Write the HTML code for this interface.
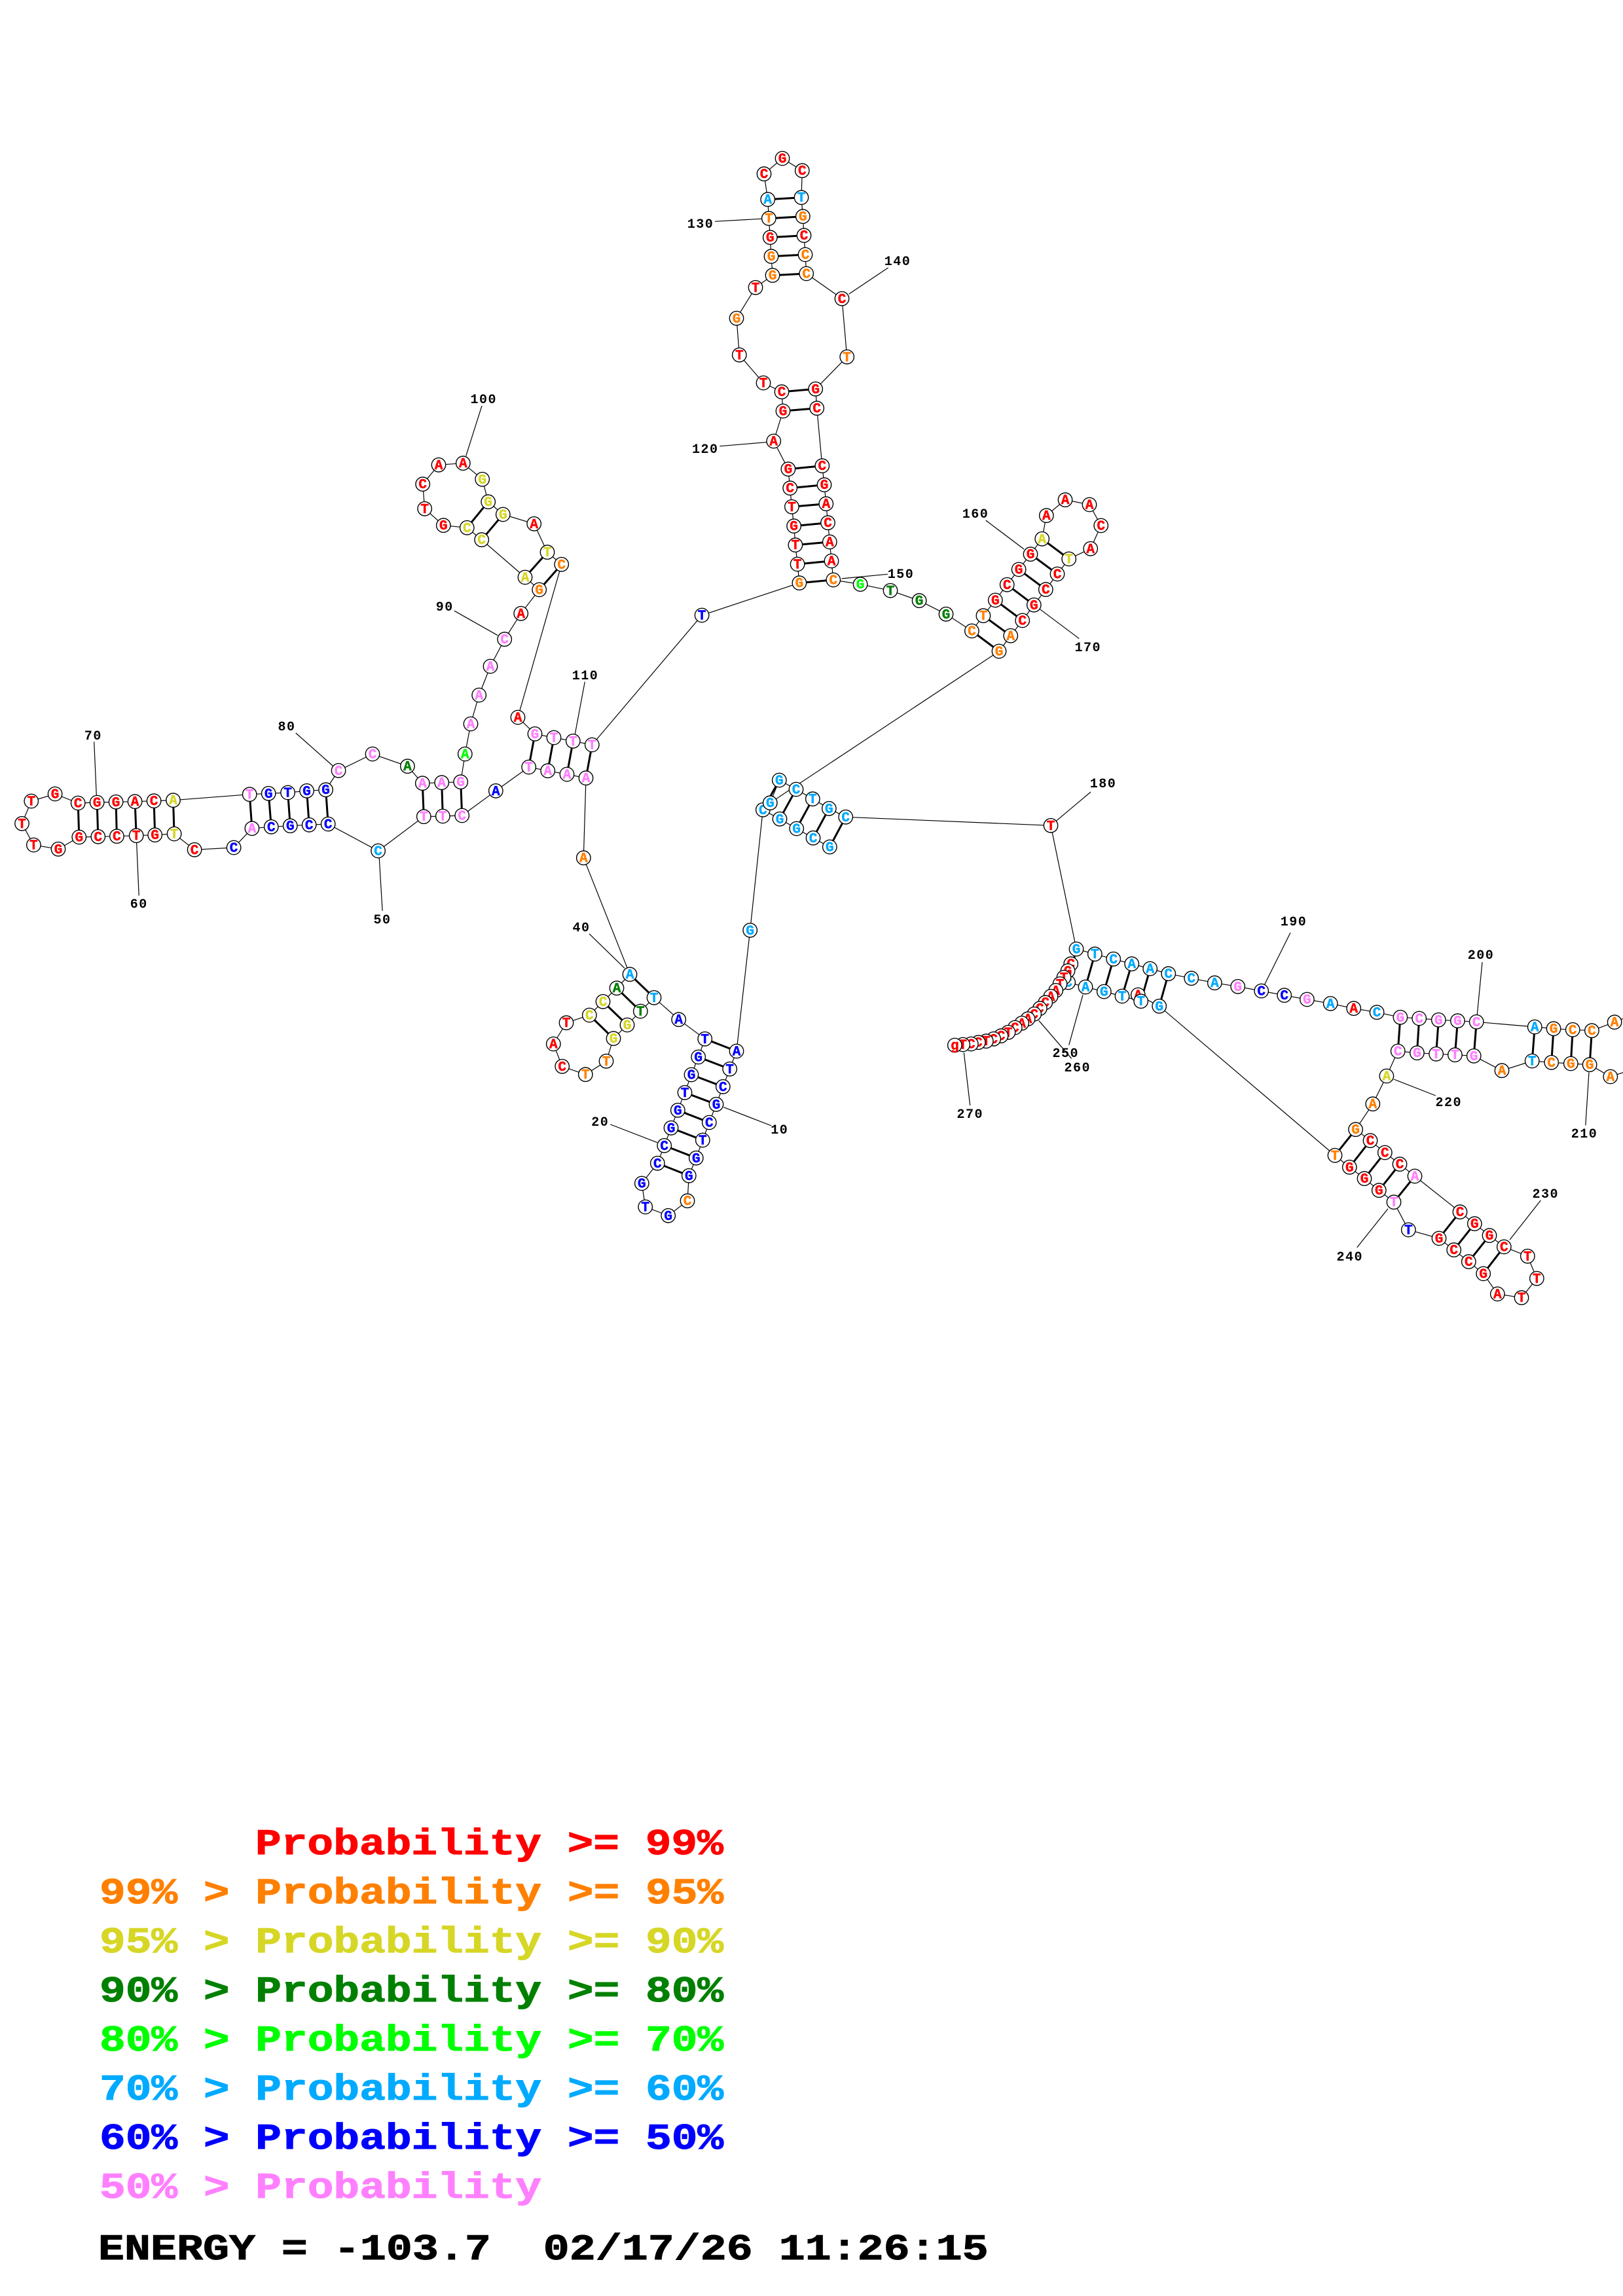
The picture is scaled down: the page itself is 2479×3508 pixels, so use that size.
<!DOCTYPE html>
<html><head><meta charset="utf-8"><style>
html,body{margin:0;padding:0;background:#fff}
svg{display:block}
circle{fill:#fff;stroke:#000;stroke-width:1.4}
.n text{font:bold 21px "Liberation Mono",monospace;text-anchor:middle;transform:translate(0,6.5px);stroke-width:.5}
.t text{font:bold 20px "Liberation Mono",monospace;text-anchor:middle;fill:#000;letter-spacing:1.5px}
.L text{font:bold 56px "Liberation Mono",monospace;white-space:pre;stroke-width:1}
.r{fill:#f00;stroke:#f00}.o{fill:#ff8000;stroke:#ff8000}.y{fill:#d6d626;stroke:#d6d626}.g{fill:#008000;stroke:#008000}.l{fill:#0f0;stroke:#0f0}.s{fill:#0af;stroke:#0af}.b{fill:#00f;stroke:#00f}.p{fill:#ff80ff;stroke:#ff80ff}
</style></head><body>
<svg xmlns="http://www.w3.org/2000/svg" width="2479" height="3508" viewBox="0 0 2479 3508">
<polyline fill="none" stroke="#000" stroke-width="1.2" points="1267.3,1294 1242,1280.3 1216.7,1266 1191,1251.3 1165.3,1237.3 1145.7,1421.3 1125,1606 1114.7,1633.3 1104.3,1660.3 1094,1687.3 1083.3,1715 1073.3,1742 1063.3,1769.3 1052.3,1796.3 1050,1834.7 1020.7,1857.3 985.7,1844 980.3,1808 1004.3,1777.3 1014.7,1750.3 1025,1723.3 1035.3,1696.3 1046,1669.3 1056,1642 1066.7,1615 1076.7,1587.3 1036.7,1557.7 999,1524.3 978.3,1545 958,1566 937,1586.7 926,1621.3 894.3,1641.7 858.7,1629.3 845.3,1595 865,1562.7 900.3,1551 921,1530.3 942,1509.7 962,1488.7 891.3,1310.7 895,1188.7 866,1183 836.7,1177.7 807.7,1172 757.3,1208.3 705.7,1246 676.3,1247 647.3,1247.7 577.6,1300 501.2,1259 472.2,1260.3 443.3,1261.7 414.3,1263.3 384.9,1265.7 357.1,1295 297.1,1298.3 266.1,1274 236.7,1275.7 208.2,1276.7 178.4,1277.7 149.8,1278.3 120.8,1279 89,1297.3 51.4,1291 33.5,1258.3 47.8,1224 84.1,1213 119.2,1227 148.2,1226 177.1,1225.3 206.1,1224.7 235.1,1223.7 264.5,1222.7 381.2,1213.7 410.2,1212.3 439.6,1211 468.6,1208.3 497.6,1206.7 517.1,1177.3 569,1152 622.4,1170.7 645.3,1196.7 674.7,1195.7 703.7,1194.7 710.3,1152 719,1106 731.7,1062 749,1018 770.7,976.7 795.7,937.3 823.7,901 802,882 735.7,824.7 713.3,806.3 677.3,802.7 648.7,777.3 645.7,739.7 670,710.3 707.3,707.7 736.7,732.3 745.7,766.7 768.3,786 815.7,800.3 836,843.7 857.7,862.3 791,1096 817,1121.3 846,1127 875.3,1132.3 904.3,1138 1072.1,940 1220.9,890.7 1218.1,862 1214.9,832.7 1212.6,803.7 1209.4,774.3 1206.7,745.7 1203.9,716.7 1181.7,674 1196,628 1194,598.7 1166,585 1129.3,542.3 1125,486.3 1154,439.3 1180,420.7 1178,391.7 1176.3,362.7 1174.3,333.7 1172.7,304.7 1167,265.7 1195,242 1225.3,260.7 1224,301.7 1226.3,330.7 1228,359.7 1230,389 1231.7,418 1286,456.3 1293.7,545.3 1245.7,594.3 1247.7,623.7 1255.8,711.7 1259,740.7 1261.8,769.7 1264.5,798.7 1267.3,828 1270,857 1272.8,886 1314.1,892.7 1360,902.3 1404.1,917.7 1445,938.3 1484.4,964 1501.9,940.7 1520.3,917 1538.2,893.3 1556.1,870 1574,846.7 1591.7,823.3 1598.3,787.7 1627,763.7 1664,771 1681.7,803 1665.7,838.3 1632.7,854 1615,877 1597.3,900.7 1579.3,924.3 1561.7,948 1543.7,971.3 1526,995 1176.3,1226.7 1190.3,1192 1216,1206 1241.3,1220.7 1266.3,1235.3 1291.7,1248.3 1605,1261.3 1644,1450 1672.3,1457.7 1700.7,1465.3 1728.7,1472.7 1756.7,1480 1784.7,1487.7 1819.7,1494.7 1855.3,1501.7 1890.7,1507.3 1926.7,1514 1961.7,1520.7 1996.4,1527 2032.2,1533.3 2067.7,1540.7 2103.1,1546.7 2138.9,1554.3 2167.7,1556 2197.3,1558.3 2226.4,1559.7 2255.2,1561.3 2344.2,1569 2373,1571.7 2402.2,1573.3 2431.4,1574.7 2466.1,1561.7 2500,1548 2520,1600 2500,1632 2459.8,1645 2428.1,1626.7 2399.3,1625 2369.7,1623.3 2340.2,1621 2294,1635.7 2251.2,1613.3 2222.4,1611.7 2193.6,1610.3 2164.4,1608.7 2135.2,1606 2117.9,1644 2096.8,1686.7 2070.6,1725.7 2093,1742.7 2115.3,1761 2138,1778.7 2161,1797 2230,1851.7 2252.3,1869.7 2275,1887.7 2297.3,1905 2333.3,1919.3 2347.3,1953.3 2324,1982.7 2287.3,1977 2265.7,1946 2243.3,1927.7 2220.7,1909.7 2198,1892 2151.3,1879 2129,1836.7 2106.3,1818.7 2084,1800.7 2061.3,1783.3 2039,1765.3 1770.7,1537.3 1738.3,1520 1742.7,1529.7 1714,1522 1686.3,1515 1658,1508 1631.7,1501 1635.7,1472.7 1631,1483.3 1625,1493.3 1619,1503.3 1612.7,1513.3 1605,1522.3 1596.7,1531.7 1588.3,1540.7 1579.7,1549.3 1570,1556.7 1560.7,1563.3 1550.3,1570 1540,1577.3 1529,1582.7 1517.7,1587.3 1506.3,1590.7 1494.3,1592.7 1483.3,1595 1470.7,1596 1458.3,1597"/>
<path fill="none" stroke="#000" stroke-width="3" d="M1267.3 1294L1291.7 1248.3M1242 1280.3L1266.3 1235.3M1216.7 1266L1241.3 1220.7M1191 1251.3L1216 1206M1165.3 1237.3L1190.3 1192M1125 1606L1076.7 1587.3M1114.7 1633.3L1066.7 1615M1104.3 1660.3L1056 1642M1094 1687.3L1046 1669.3M1083.3 1715L1035.3 1696.3M1073.3 1742L1025 1723.3M1063.3 1769.3L1014.7 1750.3M1052.3 1796.3L1004.3 1777.3M999 1524.3L962 1488.7M978.3 1545L942 1509.7M958 1566L921 1530.3M937 1586.7L900.3 1551M895 1188.7L904.3 1138M866 1183L875.3 1132.3M836.7 1177.7L846 1127M807.7 1172L817 1121.3M705.7 1246L703.7 1194.7M676.3 1247L674.7 1195.7M647.3 1247.7L645.3 1196.7M501.2 1259L497.6 1206.7M472.2 1260.3L468.6 1208.3M443.3 1261.7L439.6 1211M414.3 1263.3L410.2 1212.3M384.9 1265.7L381.2 1213.7M266.1 1274L264.5 1222.7M236.7 1275.7L235.1 1223.7M208.2 1276.7L206.1 1224.7M178.4 1277.7L177.1 1225.3M149.8 1278.3L148.2 1226M120.8 1279L119.2 1227M823.7 901L857.7 862.3M802 882L836 843.7M735.7 824.7L768.3 786M713.3 806.3L745.7 766.7M1220.9 890.7L1272.8 886M1218.1 862L1270 857M1214.9 832.7L1267.3 828M1212.6 803.7L1264.5 798.7M1209.4 774.3L1261.8 769.7M1206.7 745.7L1259 740.7M1203.9 716.7L1255.8 711.7M1196 628L1247.7 623.7M1194 598.7L1245.7 594.3M1180 420.7L1231.7 418M1178 391.7L1230 389M1176.3 362.7L1228 359.7M1174.3 333.7L1226.3 330.7M1172.7 304.7L1224 301.7M1484.4 964L1526 995M1501.9 940.7L1543.7 971.3M1520.3 917L1561.7 948M1538.2 893.3L1579.3 924.3M1556.1 870L1597.3 900.7M1574 846.7L1615 877M1591.7 823.3L1632.7 854M1644 1450L1631.7 1501M1672.3 1457.7L1658 1508M1700.7 1465.3L1686.3 1515M1728.7 1472.7L1714 1522M1756.7 1480L1742.7 1529.7M1784.7 1487.7L1770.7 1537.3M2138.9 1554.3L2135.2 1606M2167.7 1556L2164.4 1608.7M2197.3 1558.3L2193.6 1610.3M2226.4 1559.7L2222.4 1611.7M2255.2 1561.3L2251.2 1613.3M2344.2 1569L2340.2 1621M2373 1571.7L2369.7 1623.3M2402.2 1573.3L2399.3 1625M2431.4 1574.7L2428.1 1626.7M2070.6 1725.7L2039 1765.3M2093 1742.7L2061.3 1783.3M2115.3 1761L2084 1800.7M2138 1778.7L2106.3 1818.7M2161 1797L2129 1836.7M2230 1851.7L2198 1892M2252.3 1869.7L2220.7 1909.7M2275 1887.7L2243.3 1927.7M2297.3 1905L2265.7 1946"/>
<path fill="none" stroke="#000" stroke-width="1.2" d="M143.7 1133.3L147.3 1215M208.6 1286.7L212.2 1368.3M451.8 1120L508.2 1170M579.2 1310L584.1 1391.7M736 620L711.7 696.7M694 933.3L760 970.7M893.3 1041.7L878.3 1121.7M900 1426.7L954 1479.3M1105.3 1691.7L1178.3 1720M932.3 1718L1004 1745.7M1092 338.3L1163.3 334.3M1099.3 681.7L1170.7 675.7M1356.7 409L1296.7 449.3M1355.9 877.3L1285.6 884M1505.7 795L1564 839M1648.3 975.7L1588.3 930.7M1666 1210L1605 1261.3M1971 1425L1926.7 1514M2264 1470L2255.2 1561.3M2427 1638.3L2421.8 1719.3M2129 1649L2192.8 1674M2353.3 1834L2306 1894.3M2072.7 1906L2120 1846.7M1654 1520L1632.7 1596.7M1586.7 1559.3L1636.7 1617.3M1472.3 1608.3L1481.7 1689"/>
<g class="t">
<text x="142.4" y="1130">70</text><text x="212.2" y="1387">60</text><text x="438" y="1116">80</text><text x="584" y="1411">50</text><text x="738.7" y="616">100</text><text x="679.3" y="933">90</text><text x="894" y="1038">110</text><text x="888" y="1423">40</text><text x="1190.7" y="1732">10</text><text x="916.7" y="1720">20</text><text x="1070" y="348">130</text><text x="1077.3" y="692">120</text><text x="1371" y="405">140</text><text x="1376" y="883">150</text><text x="1490" y="791">160</text><text x="1661.7" y="995">170</text><text x="1685" y="1203">180</text><text x="1976" y="1414">190</text><text x="2262" y="1465">200</text><text x="2420" y="1738">210</text><text x="2212.8" y="1690">220</text><text x="2360.7" y="1830">230</text><text x="2061.7" y="1926">240</text><text x="1627.7" y="1615">250</text><text x="1645.7" y="1637">260</text><text x="1481.7" y="1708">270</text>
</g>
<g class="n">
<circle r="10.7" cx="1267.3" cy="1294"/><text class="s" x="1267.3" y="1294">G</text>
<circle r="10.7" cx="1242" cy="1280.3"/><text class="s" x="1242" y="1280.3">C</text>
<circle r="10.7" cx="1216.7" cy="1266"/><text class="s" x="1216.7" y="1266">G</text>
<circle r="10.7" cx="1191" cy="1251.3"/><text class="s" x="1191" y="1251.3">G</text>
<circle r="10.7" cx="1165.3" cy="1237.3"/><text class="s" x="1165.3" y="1237.3">C</text>
<circle r="10.7" cx="1145.7" cy="1421.3"/><text class="s" x="1145.7" y="1421.3">G</text>
<circle r="10.7" cx="1125" cy="1606"/><text class="b" x="1125" y="1606">A</text>
<circle r="10.7" cx="1114.7" cy="1633.3"/><text class="b" x="1114.7" y="1633.3">T</text>
<circle r="10.7" cx="1104.3" cy="1660.3"/><text class="b" x="1104.3" y="1660.3">C</text>
<circle r="10.7" cx="1094" cy="1687.3"/><text class="b" x="1094" y="1687.3">G</text>
<circle r="10.7" cx="1083.3" cy="1715"/><text class="b" x="1083.3" y="1715">C</text>
<circle r="10.7" cx="1073.3" cy="1742"/><text class="b" x="1073.3" y="1742">T</text>
<circle r="10.7" cx="1063.3" cy="1769.3"/><text class="b" x="1063.3" y="1769.3">G</text>
<circle r="10.7" cx="1052.3" cy="1796.3"/><text class="b" x="1052.3" y="1796.3">G</text>
<circle r="10.7" cx="1050" cy="1834.7"/><text class="o" x="1050" y="1834.7">C</text>
<circle r="10.7" cx="1020.7" cy="1857.3"/><text class="b" x="1020.7" y="1857.3">G</text>
<circle r="10.7" cx="985.7" cy="1844"/><text class="b" x="985.7" y="1844">T</text>
<circle r="10.7" cx="980.3" cy="1808"/><text class="b" x="980.3" y="1808">G</text>
<circle r="10.7" cx="1004.3" cy="1777.3"/><text class="b" x="1004.3" y="1777.3">C</text>
<circle r="10.7" cx="1014.7" cy="1750.3"/><text class="b" x="1014.7" y="1750.3">C</text>
<circle r="10.7" cx="1025" cy="1723.3"/><text class="b" x="1025" y="1723.3">G</text>
<circle r="10.7" cx="1035.3" cy="1696.3"/><text class="b" x="1035.3" y="1696.3">G</text>
<circle r="10.7" cx="1046" cy="1669.3"/><text class="b" x="1046" y="1669.3">T</text>
<circle r="10.7" cx="1056" cy="1642"/><text class="b" x="1056" y="1642">G</text>
<circle r="10.7" cx="1066.7" cy="1615"/><text class="b" x="1066.7" y="1615">G</text>
<circle r="10.7" cx="1076.7" cy="1587.3"/><text class="b" x="1076.7" y="1587.3">T</text>
<circle r="10.7" cx="1036.7" cy="1557.7"/><text class="b" x="1036.7" y="1557.7">A</text>
<circle r="10.7" cx="999" cy="1524.3"/><text class="s" x="999" y="1524.3">T</text>
<circle r="10.7" cx="978.3" cy="1545"/><text class="g" x="978.3" y="1545">T</text>
<circle r="10.7" cx="958" cy="1566"/><text class="y" x="958" y="1566">G</text>
<circle r="10.7" cx="937" cy="1586.7"/><text class="y" x="937" y="1586.7">G</text>
<circle r="10.7" cx="926" cy="1621.3"/><text class="o" x="926" y="1621.3">T</text>
<circle r="10.7" cx="894.3" cy="1641.7"/><text class="o" x="894.3" y="1641.7">T</text>
<circle r="10.7" cx="858.7" cy="1629.3"/><text class="r" x="858.7" y="1629.3">C</text>
<circle r="10.7" cx="845.3" cy="1595"/><text class="r" x="845.3" y="1595">A</text>
<circle r="10.7" cx="865" cy="1562.7"/><text class="r" x="865" y="1562.7">T</text>
<circle r="10.7" cx="900.3" cy="1551"/><text class="y" x="900.3" y="1551">C</text>
<circle r="10.7" cx="921" cy="1530.3"/><text class="y" x="921" y="1530.3">C</text>
<circle r="10.7" cx="942" cy="1509.7"/><text class="g" x="942" y="1509.7">A</text>
<circle r="10.7" cx="962" cy="1488.7"/><text class="s" x="962" y="1488.7">A</text>
<circle r="10.7" cx="891.3" cy="1310.7"/><text class="o" x="891.3" y="1310.7">A</text>
<circle r="10.7" cx="895" cy="1188.7"/><text class="p" x="895" y="1188.7">A</text>
<circle r="10.7" cx="866" cy="1183"/><text class="p" x="866" y="1183">A</text>
<circle r="10.7" cx="836.7" cy="1177.7"/><text class="p" x="836.7" y="1177.7">A</text>
<circle r="10.7" cx="807.7" cy="1172"/><text class="p" x="807.7" y="1172">T</text>
<circle r="10.7" cx="757.3" cy="1208.3"/><text class="b" x="757.3" y="1208.3">A</text>
<circle r="10.7" cx="705.7" cy="1246"/><text class="p" x="705.7" y="1246">C</text>
<circle r="10.7" cx="676.3" cy="1247"/><text class="p" x="676.3" y="1247">T</text>
<circle r="10.7" cx="647.3" cy="1247.7"/><text class="p" x="647.3" y="1247.7">T</text>
<circle r="10.7" cx="577.6" cy="1300"/><text class="s" x="577.6" y="1300">C</text>
<circle r="10.7" cx="501.2" cy="1259"/><text class="b" x="501.2" y="1259">C</text>
<circle r="10.7" cx="472.2" cy="1260.3"/><text class="b" x="472.2" y="1260.3">C</text>
<circle r="10.7" cx="443.3" cy="1261.7"/><text class="b" x="443.3" y="1261.7">G</text>
<circle r="10.7" cx="414.3" cy="1263.3"/><text class="b" x="414.3" y="1263.3">C</text>
<circle r="10.7" cx="384.9" cy="1265.7"/><text class="p" x="384.9" y="1265.7">A</text>
<circle r="10.7" cx="357.1" cy="1295"/><text class="b" x="357.1" y="1295">C</text>
<circle r="10.7" cx="297.1" cy="1298.3"/><text class="r" x="297.1" y="1298.3">C</text>
<circle r="10.7" cx="266.1" cy="1274"/><text class="y" x="266.1" y="1274">T</text>
<circle r="10.7" cx="236.7" cy="1275.7"/><text class="r" x="236.7" y="1275.7">G</text>
<circle r="10.7" cx="208.2" cy="1276.7"/><text class="r" x="208.2" y="1276.7">T</text>
<circle r="10.7" cx="178.4" cy="1277.7"/><text class="r" x="178.4" y="1277.7">C</text>
<circle r="10.7" cx="149.8" cy="1278.3"/><text class="r" x="149.8" y="1278.3">C</text>
<circle r="10.7" cx="120.8" cy="1279"/><text class="r" x="120.8" y="1279">G</text>
<circle r="10.7" cx="89" cy="1297.3"/><text class="r" x="89" y="1297.3">G</text>
<circle r="10.7" cx="51.4" cy="1291"/><text class="r" x="51.4" y="1291">T</text>
<circle r="10.7" cx="33.5" cy="1258.3"/><text class="r" x="33.5" y="1258.3">T</text>
<circle r="10.7" cx="47.8" cy="1224"/><text class="r" x="47.8" y="1224">T</text>
<circle r="10.7" cx="84.1" cy="1213"/><text class="r" x="84.1" y="1213">G</text>
<circle r="10.7" cx="119.2" cy="1227"/><text class="r" x="119.2" y="1227">C</text>
<circle r="10.7" cx="148.2" cy="1226"/><text class="r" x="148.2" y="1226">G</text>
<circle r="10.7" cx="177.1" cy="1225.3"/><text class="r" x="177.1" y="1225.3">G</text>
<circle r="10.7" cx="206.1" cy="1224.7"/><text class="r" x="206.1" y="1224.7">A</text>
<circle r="10.7" cx="235.1" cy="1223.7"/><text class="r" x="235.1" y="1223.7">C</text>
<circle r="10.7" cx="264.5" cy="1222.7"/><text class="y" x="264.5" y="1222.7">A</text>
<circle r="10.7" cx="381.2" cy="1213.7"/><text class="p" x="381.2" y="1213.7">T</text>
<circle r="10.7" cx="410.2" cy="1212.3"/><text class="b" x="410.2" y="1212.3">G</text>
<circle r="10.7" cx="439.6" cy="1211"/><text class="b" x="439.6" y="1211">T</text>
<circle r="10.7" cx="468.6" cy="1208.3"/><text class="b" x="468.6" y="1208.3">G</text>
<circle r="10.7" cx="497.6" cy="1206.7"/><text class="b" x="497.6" y="1206.7">G</text>
<circle r="10.7" cx="517.1" cy="1177.3"/><text class="p" x="517.1" y="1177.3">C</text>
<circle r="10.7" cx="569" cy="1152"/><text class="p" x="569" y="1152">C</text>
<circle r="10.7" cx="622.4" cy="1170.7"/><text class="g" x="622.4" y="1170.7">A</text>
<circle r="10.7" cx="645.3" cy="1196.7"/><text class="p" x="645.3" y="1196.7">A</text>
<circle r="10.7" cx="674.7" cy="1195.7"/><text class="p" x="674.7" y="1195.7">A</text>
<circle r="10.7" cx="703.7" cy="1194.7"/><text class="p" x="703.7" y="1194.7">G</text>
<circle r="10.7" cx="710.3" cy="1152"/><text class="l" x="710.3" y="1152">A</text>
<circle r="10.7" cx="719" cy="1106"/><text class="p" x="719" y="1106">A</text>
<circle r="10.7" cx="731.7" cy="1062"/><text class="p" x="731.7" y="1062">A</text>
<circle r="10.7" cx="749" cy="1018"/><text class="p" x="749" y="1018">A</text>
<circle r="10.7" cx="770.7" cy="976.7"/><text class="p" x="770.7" y="976.7">C</text>
<circle r="10.7" cx="795.7" cy="937.3"/><text class="r" x="795.7" y="937.3">A</text>
<circle r="10.7" cx="802" cy="882"/><text class="y" x="802" y="882">A</text>
<circle r="10.7" cx="823.7" cy="901"/><text class="o" x="823.7" y="901">G</text>
<circle r="10.7" cx="735.7" cy="824.7"/><text class="y" x="735.7" y="824.7">C</text>
<circle r="10.7" cx="713.3" cy="806.3"/><text class="y" x="713.3" y="806.3">C</text>
<circle r="10.7" cx="677.3" cy="802.7"/><text class="r" x="677.3" y="802.7">G</text>
<circle r="10.7" cx="648.7" cy="777.3"/><text class="r" x="648.7" y="777.3">T</text>
<circle r="10.7" cx="645.7" cy="739.7"/><text class="r" x="645.7" y="739.7">C</text>
<circle r="10.7" cx="670" cy="710.3"/><text class="r" x="670" y="710.3">A</text>
<circle r="10.7" cx="707.3" cy="707.7"/><text class="r" x="707.3" y="707.7">A</text>
<circle r="10.7" cx="736.7" cy="732.3"/><text class="y" x="736.7" y="732.3">G</text>
<circle r="10.7" cx="745.7" cy="766.7"/><text class="y" x="745.7" y="766.7">G</text>
<circle r="10.7" cx="768.3" cy="786"/><text class="y" x="768.3" y="786">G</text>
<circle r="10.7" cx="815.7" cy="800.3"/><text class="r" x="815.7" y="800.3">A</text>
<circle r="10.7" cx="836" cy="843.7"/><text class="y" x="836" y="843.7">T</text>
<circle r="10.7" cx="857.7" cy="862.3"/><text class="o" x="857.7" y="862.3">C</text>
<circle r="10.7" cx="791" cy="1096"/><text class="r" x="791" y="1096">A</text>
<circle r="10.7" cx="817" cy="1121.3"/><text class="p" x="817" y="1121.3">G</text>
<circle r="10.7" cx="846" cy="1127"/><text class="p" x="846" y="1127">T</text>
<circle r="10.7" cx="875.3" cy="1132.3"/><text class="p" x="875.3" y="1132.3">T</text>
<circle r="10.7" cx="904.3" cy="1138"/><text class="p" x="904.3" y="1138">T</text>
<circle r="10.7" cx="1072.1" cy="940"/><text class="b" x="1072.1" y="940">T</text>
<circle r="10.7" cx="1220.9" cy="890.7"/><text class="o" x="1220.9" y="890.7">G</text>
<circle r="10.7" cx="1218.1" cy="862"/><text class="r" x="1218.1" y="862">T</text>
<circle r="10.7" cx="1214.9" cy="832.7"/><text class="r" x="1214.9" y="832.7">T</text>
<circle r="10.7" cx="1212.6" cy="803.7"/><text class="r" x="1212.6" y="803.7">G</text>
<circle r="10.7" cx="1209.4" cy="774.3"/><text class="r" x="1209.4" y="774.3">T</text>
<circle r="10.7" cx="1206.7" cy="745.7"/><text class="r" x="1206.7" y="745.7">C</text>
<circle r="10.7" cx="1203.9" cy="716.7"/><text class="r" x="1203.9" y="716.7">G</text>
<circle r="10.7" cx="1181.7" cy="674"/><text class="r" x="1181.7" y="674">A</text>
<circle r="10.7" cx="1196" cy="628"/><text class="r" x="1196" y="628">G</text>
<circle r="10.7" cx="1194" cy="598.7"/><text class="r" x="1194" y="598.7">C</text>
<circle r="10.7" cx="1166" cy="585"/><text class="r" x="1166" y="585">T</text>
<circle r="10.7" cx="1129.3" cy="542.3"/><text class="r" x="1129.3" y="542.3">T</text>
<circle r="10.7" cx="1125" cy="486.3"/><text class="o" x="1125" y="486.3">G</text>
<circle r="10.7" cx="1154" cy="439.3"/><text class="r" x="1154" y="439.3">T</text>
<circle r="10.7" cx="1180" cy="420.7"/><text class="o" x="1180" y="420.7">G</text>
<circle r="10.7" cx="1178" cy="391.7"/><text class="o" x="1178" y="391.7">G</text>
<circle r="10.7" cx="1176.3" cy="362.7"/><text class="r" x="1176.3" y="362.7">G</text>
<circle r="10.7" cx="1174.3" cy="333.7"/><text class="o" x="1174.3" y="333.7">T</text>
<circle r="10.7" cx="1172.7" cy="304.7"/><text class="s" x="1172.7" y="304.7">A</text>
<circle r="10.7" cx="1167" cy="265.7"/><text class="r" x="1167" y="265.7">C</text>
<circle r="10.7" cx="1195" cy="242"/><text class="r" x="1195" y="242">G</text>
<circle r="10.7" cx="1225.3" cy="260.7"/><text class="r" x="1225.3" y="260.7">C</text>
<circle r="10.7" cx="1224" cy="301.7"/><text class="s" x="1224" y="301.7">T</text>
<circle r="10.7" cx="1226.3" cy="330.7"/><text class="o" x="1226.3" y="330.7">G</text>
<circle r="10.7" cx="1228" cy="359.7"/><text class="r" x="1228" y="359.7">C</text>
<circle r="10.7" cx="1230" cy="389"/><text class="o" x="1230" y="389">C</text>
<circle r="10.7" cx="1231.7" cy="418"/><text class="o" x="1231.7" y="418">C</text>
<circle r="10.7" cx="1286" cy="456.3"/><text class="r" x="1286" y="456.3">C</text>
<circle r="10.7" cx="1293.7" cy="545.3"/><text class="o" x="1293.7" y="545.3">T</text>
<circle r="10.7" cx="1245.7" cy="594.3"/><text class="r" x="1245.7" y="594.3">G</text>
<circle r="10.7" cx="1247.7" cy="623.7"/><text class="r" x="1247.7" y="623.7">C</text>
<circle r="10.7" cx="1255.8" cy="711.7"/><text class="r" x="1255.8" y="711.7">C</text>
<circle r="10.7" cx="1259" cy="740.7"/><text class="r" x="1259" y="740.7">G</text>
<circle r="10.7" cx="1261.8" cy="769.7"/><text class="r" x="1261.8" y="769.7">A</text>
<circle r="10.7" cx="1264.5" cy="798.7"/><text class="r" x="1264.5" y="798.7">C</text>
<circle r="10.7" cx="1267.3" cy="828"/><text class="r" x="1267.3" y="828">A</text>
<circle r="10.7" cx="1270" cy="857"/><text class="r" x="1270" y="857">A</text>
<circle r="10.7" cx="1272.8" cy="886"/><text class="o" x="1272.8" y="886">C</text>
<circle r="10.7" cx="1314.1" cy="892.7"/><text class="l" x="1314.1" y="892.7">G</text>
<circle r="10.7" cx="1360" cy="902.3"/><text class="g" x="1360" y="902.3">T</text>
<circle r="10.7" cx="1404.1" cy="917.7"/><text class="g" x="1404.1" y="917.7">G</text>
<circle r="10.7" cx="1445" cy="938.3"/><text class="g" x="1445" y="938.3">G</text>
<circle r="10.7" cx="1484.4" cy="964"/><text class="o" x="1484.4" y="964">C</text>
<circle r="10.7" cx="1501.9" cy="940.7"/><text class="o" x="1501.9" y="940.7">T</text>
<circle r="10.7" cx="1520.3" cy="917"/><text class="r" x="1520.3" y="917">G</text>
<circle r="10.7" cx="1538.2" cy="893.3"/><text class="r" x="1538.2" y="893.3">C</text>
<circle r="10.7" cx="1556.1" cy="870"/><text class="r" x="1556.1" y="870">G</text>
<circle r="10.7" cx="1574" cy="846.7"/><text class="r" x="1574" y="846.7">G</text>
<circle r="10.7" cx="1591.7" cy="823.3"/><text class="y" x="1591.7" y="823.3">A</text>
<circle r="10.7" cx="1598.3" cy="787.7"/><text class="r" x="1598.3" y="787.7">A</text>
<circle r="10.7" cx="1627" cy="763.7"/><text class="r" x="1627" y="763.7">A</text>
<circle r="10.7" cx="1664" cy="771"/><text class="r" x="1664" y="771">A</text>
<circle r="10.7" cx="1681.7" cy="803"/><text class="r" x="1681.7" y="803">C</text>
<circle r="10.7" cx="1665.7" cy="838.3"/><text class="r" x="1665.7" y="838.3">A</text>
<circle r="10.7" cx="1632.7" cy="854"/><text class="y" x="1632.7" y="854">T</text>
<circle r="10.7" cx="1615" cy="877"/><text class="r" x="1615" y="877">C</text>
<circle r="10.7" cx="1597.3" cy="900.7"/><text class="r" x="1597.3" y="900.7">C</text>
<circle r="10.7" cx="1579.3" cy="924.3"/><text class="r" x="1579.3" y="924.3">G</text>
<circle r="10.7" cx="1561.7" cy="948"/><text class="r" x="1561.7" y="948">C</text>
<circle r="10.7" cx="1543.7" cy="971.3"/><text class="o" x="1543.7" y="971.3">A</text>
<circle r="10.7" cx="1526" cy="995"/><text class="o" x="1526" y="995">G</text>
<circle r="10.7" cx="1176.3" cy="1226.7"/><text class="s" x="1176.3" y="1226.7">G</text>
<circle r="10.7" cx="1190.3" cy="1192"/><text class="s" x="1190.3" y="1192">G</text>
<circle r="10.7" cx="1216" cy="1206"/><text class="s" x="1216" y="1206">C</text>
<circle r="10.7" cx="1241.3" cy="1220.7"/><text class="s" x="1241.3" y="1220.7">T</text>
<circle r="10.7" cx="1266.3" cy="1235.3"/><text class="s" x="1266.3" y="1235.3">G</text>
<circle r="10.7" cx="1291.7" cy="1248.3"/><text class="s" x="1291.7" y="1248.3">C</text>
<circle r="10.7" cx="1605" cy="1261.3"/><text class="r" x="1605" y="1261.3">T</text>
<circle r="10.7" cx="1644" cy="1450"/><text class="s" x="1644" y="1450">G</text>
<circle r="10.7" cx="1672.3" cy="1457.7"/><text class="s" x="1672.3" y="1457.7">T</text>
<circle r="10.7" cx="1700.7" cy="1465.3"/><text class="s" x="1700.7" y="1465.3">C</text>
<circle r="10.7" cx="1728.7" cy="1472.7"/><text class="s" x="1728.7" y="1472.7">A</text>
<circle r="10.7" cx="1756.7" cy="1480"/><text class="s" x="1756.7" y="1480">A</text>
<circle r="10.7" cx="1784.7" cy="1487.7"/><text class="s" x="1784.7" y="1487.7">C</text>
<circle r="10.7" cx="1819.7" cy="1494.7"/><text class="s" x="1819.7" y="1494.7">C</text>
<circle r="10.7" cx="1855.3" cy="1501.7"/><text class="s" x="1855.3" y="1501.7">A</text>
<circle r="10.7" cx="1890.7" cy="1507.3"/><text class="p" x="1890.7" y="1507.3">G</text>
<circle r="10.7" cx="1926.7" cy="1514"/><text class="b" x="1926.7" y="1514">C</text>
<circle r="10.7" cx="1961.7" cy="1520.7"/><text class="b" x="1961.7" y="1520.7">C</text>
<circle r="10.7" cx="1996.4" cy="1527"/><text class="p" x="1996.4" y="1527">G</text>
<circle r="10.7" cx="2032.2" cy="1533.3"/><text class="s" x="2032.2" y="1533.3">A</text>
<circle r="10.7" cx="2067.7" cy="1540.7"/><text class="r" x="2067.7" y="1540.7">A</text>
<circle r="10.7" cx="2103.1" cy="1546.7"/><text class="s" x="2103.1" y="1546.7">C</text>
<circle r="10.7" cx="2138.9" cy="1554.3"/><text class="p" x="2138.9" y="1554.3">G</text>
<circle r="10.7" cx="2167.7" cy="1556"/><text class="p" x="2167.7" y="1556">C</text>
<circle r="10.7" cx="2197.3" cy="1558.3"/><text class="p" x="2197.3" y="1558.3">G</text>
<circle r="10.7" cx="2226.4" cy="1559.7"/><text class="p" x="2226.4" y="1559.7">G</text>
<circle r="10.7" cx="2255.2" cy="1561.3"/><text class="p" x="2255.2" y="1561.3">C</text>
<circle r="10.7" cx="2344.2" cy="1569"/><text class="s" x="2344.2" y="1569">A</text>
<circle r="10.7" cx="2373" cy="1571.7"/><text class="o" x="2373" y="1571.7">G</text>
<circle r="10.7" cx="2402.2" cy="1573.3"/><text class="o" x="2402.2" y="1573.3">C</text>
<circle r="10.7" cx="2431.4" cy="1574.7"/><text class="o" x="2431.4" y="1574.7">C</text>
<circle r="10.7" cx="2466.1" cy="1561.7"/><text class="o" x="2466.1" y="1561.7">A</text>
<circle r="10.7" cx="2459.8" cy="1645"/><text class="o" x="2459.8" y="1645">A</text>
<circle r="10.7" cx="2428.1" cy="1626.7"/><text class="o" x="2428.1" y="1626.7">G</text>
<circle r="10.7" cx="2399.3" cy="1625"/><text class="o" x="2399.3" y="1625">G</text>
<circle r="10.7" cx="2369.7" cy="1623.3"/><text class="o" x="2369.7" y="1623.3">C</text>
<circle r="10.7" cx="2340.2" cy="1621"/><text class="s" x="2340.2" y="1621">T</text>
<circle r="10.7" cx="2294" cy="1635.7"/><text class="o" x="2294" y="1635.7">A</text>
<circle r="10.7" cx="2251.2" cy="1613.3"/><text class="p" x="2251.2" y="1613.3">G</text>
<circle r="10.7" cx="2222.4" cy="1611.7"/><text class="p" x="2222.4" y="1611.7">T</text>
<circle r="10.7" cx="2193.6" cy="1610.3"/><text class="p" x="2193.6" y="1610.3">T</text>
<circle r="10.7" cx="2164.4" cy="1608.7"/><text class="p" x="2164.4" y="1608.7">G</text>
<circle r="10.7" cx="2135.2" cy="1606"/><text class="p" x="2135.2" y="1606">C</text>
<circle r="10.7" cx="2117.9" cy="1644"/><text class="y" x="2117.9" y="1644">A</text>
<circle r="10.7" cx="2096.8" cy="1686.7"/><text class="o" x="2096.8" y="1686.7">A</text>
<circle r="10.7" cx="2070.6" cy="1725.7"/><text class="o" x="2070.6" y="1725.7">G</text>
<circle r="10.7" cx="2093" cy="1742.7"/><text class="r" x="2093" y="1742.7">C</text>
<circle r="10.7" cx="2115.3" cy="1761"/><text class="r" x="2115.3" y="1761">C</text>
<circle r="10.7" cx="2138" cy="1778.7"/><text class="r" x="2138" y="1778.7">C</text>
<circle r="10.7" cx="2161" cy="1797"/><text class="p" x="2161" y="1797">A</text>
<circle r="10.7" cx="2230" cy="1851.7"/><text class="r" x="2230" y="1851.7">C</text>
<circle r="10.7" cx="2252.3" cy="1869.7"/><text class="r" x="2252.3" y="1869.7">G</text>
<circle r="10.7" cx="2275" cy="1887.7"/><text class="r" x="2275" y="1887.7">G</text>
<circle r="10.7" cx="2297.3" cy="1905"/><text class="r" x="2297.3" y="1905">C</text>
<circle r="10.7" cx="2333.3" cy="1919.3"/><text class="r" x="2333.3" y="1919.3">T</text>
<circle r="10.7" cx="2347.3" cy="1953.3"/><text class="r" x="2347.3" y="1953.3">T</text>
<circle r="10.7" cx="2324" cy="1982.7"/><text class="r" x="2324" y="1982.7">T</text>
<circle r="10.7" cx="2287.3" cy="1977"/><text class="r" x="2287.3" y="1977">A</text>
<circle r="10.7" cx="2265.7" cy="1946"/><text class="r" x="2265.7" y="1946">G</text>
<circle r="10.7" cx="2243.3" cy="1927.7"/><text class="r" x="2243.3" y="1927.7">C</text>
<circle r="10.7" cx="2220.7" cy="1909.7"/><text class="r" x="2220.7" y="1909.7">C</text>
<circle r="10.7" cx="2198" cy="1892"/><text class="r" x="2198" y="1892">G</text>
<circle r="10.7" cx="2151.3" cy="1879"/><text class="b" x="2151.3" y="1879">T</text>
<circle r="10.7" cx="2129" cy="1836.7"/><text class="p" x="2129" y="1836.7">T</text>
<circle r="10.7" cx="2106.3" cy="1818.7"/><text class="r" x="2106.3" y="1818.7">G</text>
<circle r="10.7" cx="2084" cy="1800.7"/><text class="r" x="2084" y="1800.7">G</text>
<circle r="10.7" cx="2061.3" cy="1783.3"/><text class="r" x="2061.3" y="1783.3">G</text>
<circle r="10.7" cx="2039" cy="1765.3"/><text class="o" x="2039" y="1765.3">T</text>
<circle r="10.7" cx="1770.7" cy="1537.3"/><text class="s" x="1770.7" y="1537.3">G</text>
<circle r="10.7" cx="1738.3" cy="1520"/><text class="r" x="1738.3" y="1520">A</text>
<circle r="10.7" cx="1742.7" cy="1529.7"/><text class="s" x="1742.7" y="1529.7">T</text>
<circle r="10.7" cx="1714" cy="1522"/><text class="s" x="1714" y="1522">T</text>
<circle r="10.7" cx="1686.3" cy="1515"/><text class="s" x="1686.3" y="1515">G</text>
<circle r="10.7" cx="1658" cy="1508"/><text class="s" x="1658" y="1508">A</text>
<circle r="10.7" cx="1631.7" cy="1501"/><text class="s" x="1631.7" y="1501">C</text>
<circle r="10.7" cx="1635.7" cy="1472.7"/><text class="r" x="1635.7" y="1472.7">C</text>
<circle r="10.7" cx="1631" cy="1483.3"/><text class="r" x="1631" y="1483.3">G</text>
<circle r="10.7" cx="1625" cy="1493.3"/><text class="r" x="1625" y="1493.3">T</text>
<circle r="10.7" cx="1619" cy="1503.3"/><text class="r" x="1619" y="1503.3">T</text>
<circle r="10.7" cx="1612.7" cy="1513.3"/><text class="r" x="1612.7" y="1513.3">A</text>
<circle r="10.7" cx="1605" cy="1522.3"/><text class="r" x="1605" y="1522.3">A</text>
<circle r="10.7" cx="1596.7" cy="1531.7"/><text class="r" x="1596.7" y="1531.7">C</text>
<circle r="10.7" cx="1588.3" cy="1540.7"/><text class="r" x="1588.3" y="1540.7">C</text>
<circle r="10.7" cx="1579.7" cy="1549.3"/><text class="r" x="1579.7" y="1549.3">C</text>
<circle r="10.7" cx="1570" cy="1556.7"/><text class="r" x="1570" y="1556.7">A</text>
<circle r="10.7" cx="1560.7" cy="1563.3"/><text class="r" x="1560.7" y="1563.3">A</text>
<circle r="10.7" cx="1550.3" cy="1570"/><text class="r" x="1550.3" y="1570">C</text>
<circle r="10.7" cx="1540" cy="1577.3"/><text class="r" x="1540" y="1577.3">T</text>
<circle r="10.7" cx="1529" cy="1582.7"/><text class="r" x="1529" y="1582.7">C</text>
<circle r="10.7" cx="1517.7" cy="1587.3"/><text class="r" x="1517.7" y="1587.3">C</text>
<circle r="10.7" cx="1506.3" cy="1590.7"/><text class="r" x="1506.3" y="1590.7">T</text>
<circle r="10.7" cx="1494.3" cy="1592.7"/><text class="r" x="1494.3" y="1592.7">C</text>
<circle r="10.7" cx="1483.3" cy="1595"/><text class="r" x="1483.3" y="1595">C</text>
<circle r="10.7" cx="1470.7" cy="1596"/><text class="r" x="1470.7" y="1596">T</text>
<circle r="10.7" cx="1458.3" cy="1597"/><text class="r" x="1458.3" y="1597">g</text>
</g>
<g class="L">
<text class="r" transform="translate(390,2833) scale(1.182,1)">Probability &gt;= 99%</text>
<text class="o" transform="translate(152,2908) scale(1.182,1)">99% &gt; Probability &gt;= 95%</text>
<text class="y" transform="translate(152,2983) scale(1.182,1)">95% &gt; Probability &gt;= 90%</text>
<text class="g" transform="translate(152,3058) scale(1.182,1)">90% &gt; Probability &gt;= 80%</text>
<text class="l" transform="translate(152,3133) scale(1.182,1)">80% &gt; Probability &gt;= 70%</text>
<text class="s" transform="translate(152,3208) scale(1.182,1)">70% &gt; Probability &gt;= 60%</text>
<text class="b" transform="translate(152,3283) scale(1.182,1)">60% &gt; Probability &gt;= 50%</text>
<text class="p" transform="translate(152,3358) scale(1.182,1)">50% &gt; Probability</text>
<text fill="#000" stroke="#000" transform="translate(150,3452) scale(1.19,1)">ENERGY = -103.7  02/17/26 11:26:15</text>
</g>
</svg>
</body></html>
